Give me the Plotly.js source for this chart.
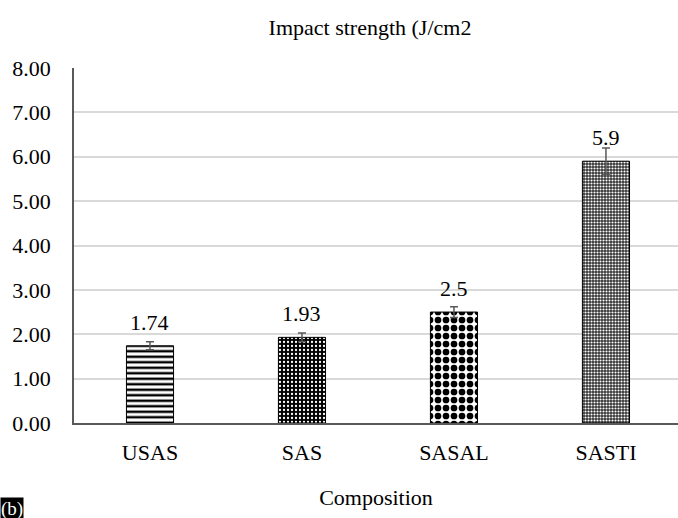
<!DOCTYPE html>
<html>
<head>
<meta charset="utf-8">
<script src="https://cdn.plot.ly/plotly-3.0.1.min.js"></script>
<style>
html,body{margin:0;padding:0;overflow:hidden;background:#fff;font-family:'Liberation Serif',serif;}
#chart text{font-family:'Liberation Serif','Times New Roman',serif !important;}
</style>
</head>
<body>
<div id="chart" style="width:678px;height:518px;"></div>
<script>
const categories = ["USAS", "SAS", "SASAL", "SASTI"];
const values = [1.74, 1.93, 2.5, 5.9];
const errors = [0.09, 0.1, 0.12, 0.3];
const labels = ["1.74", "1.93", "2.5", "5.9"];
const yTicks = [0, 1, 2, 3, 4, 5, 6, 7, 8];

const FONT = "Liberation Serif, Times New Roman, serif";
const FS = 22;

const trace = {
  type: "bar",
  x: categories,
  y: values,
  width: 0.31,
  marker: {
    color: "#ffffff",
    line: {color: "#000000", width: 1},
    pattern: {
      shape: ["-", ".", ".", "."],
      fgcolor: ["#000000", "#ffffff", "#000000", "#ffffff"],
      bgcolor: ["#ffffff", "#000000", "#ffffff", "#333333"],
      size: [5.5, 4, 8, 3],
      solidity: [0.45, 0.25, 0.55, 0.4],
      fillmode: "replace"
    }
  },
  error_y: {type: "data", array: errors, visible: true, color: "#595959", thickness: 1.5, width: 4},
  hoverinfo: "x+y"
};

const annotations = categories.map((c, i) => ({
  x: c, y: values[i], xref: "x", yref: "y",
  text: labels[i], showarrow: false,
  yanchor: "bottom", yshift: 9,
  font: {family: FONT, size: FS, color: "#000"}
}));
annotations.push({
  xref: "paper", yref: "paper", x: -74/604, y: (423-497)/355,
  xanchor: "left", yanchor: "top",
  text: "(b)", showarrow: false, bgcolor: "#000", borderpad: 0,
  font: {family: FONT, size: 19, color: "#fff"}
});

const layout = {
  width: 678, height: 518,
  margin: {l: 74, r: 0, t: 68, b: 95},
  paper_bgcolor: "#fff", plot_bgcolor: "#fff",
  showlegend: false,
  font: {family: FONT, color: "#000", size: FS},
  title: {
    text: "Impact strength (J/cm2",
    x: 370/678, xanchor: "center", y: 1 - 27/518, yanchor: "middle",
    font: {family: FONT, size: FS, color: "#000"}
  },
  xaxis: {
    range: [-0.5, 3.474],
    showline: true, linecolor: "#595959", linewidth: 1.5,
    showgrid: false,
    ticks: "outside", ticklen: 9, tickcolor: "rgba(0,0,0,0)",
    tickfont: {family: FONT, size: FS, color: "#000"},
    title: {text: "Composition", standoff: 25, font: {family: FONT, size: FS, color: "#000"}}
  },
  yaxis: {
    range: [0, 8], tickvals: yTicks, tickformat: ".2f",
    showline: true, linecolor: "#595959", linewidth: 1.5,
    gridcolor: "#d9d9d9", gridwidth: 1.5, zeroline: false,
    ticks: "outside", ticklen: 17, tickcolor: "rgba(0,0,0,0)",
    tickfont: {family: FONT, size: FS, color: "#000"}
  },
  annotations: annotations
};

Plotly.newPlot("chart", [trace], layout, {displayModeBar: false});
</script>
</body>
</html>
